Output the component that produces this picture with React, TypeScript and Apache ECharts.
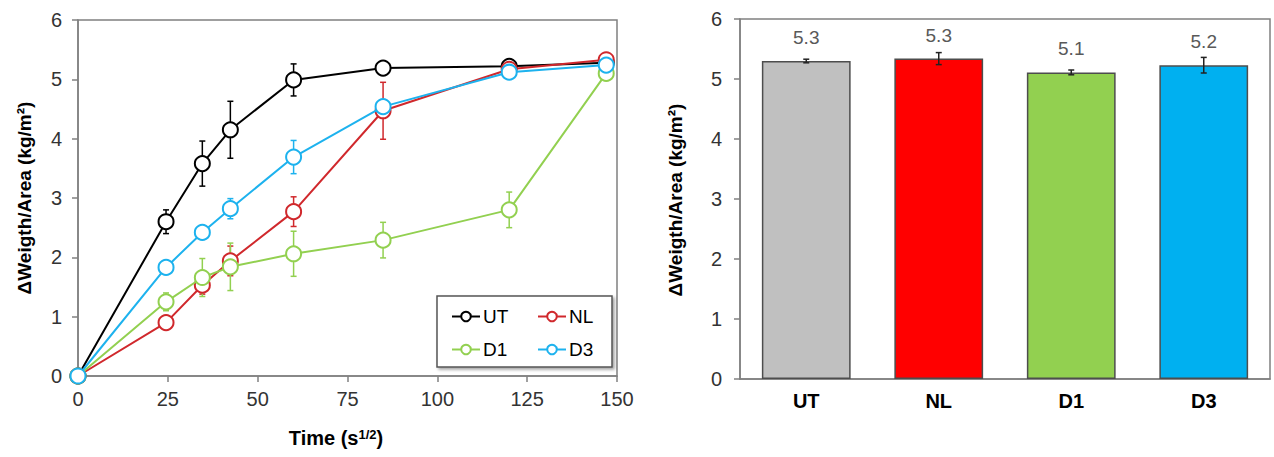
import React, { useEffect, useRef } from "react";
import * as echarts from "echarts";

// ---- Left chart data (time in s^1/2) ----
const times = [0, 24.5, 34.6, 42.4, 60, 84.9, 120, 147];
const utMean = [0, 2.6, 3.58, 4.15, 4.99, 5.19, 5.22, 5.28];
const utErr = [0, 0.2, 0.38, 0.48, 0.27, 0.05, 0.05, 0.05];
const nlMean = [0, 0.9, 1.53, 1.94, 2.77, 4.47, 5.17, 5.33];
const nlErr = [0, 0.05, 0.15, 0.25, 0.25, 0.48, 0.05, 0.05];
const d1Mean = [0, 1.25, 1.66, 1.84, 2.06, 2.29, 2.8, 5.1];
const d1Err = [0, 0.15, 0.32, 0.4, 0.38, 0.3, 0.3, 0.05];
const d3Mean = [0, 1.83, 2.42, 2.82, 3.69, 4.54, 5.12, 5.24];
const d3Err = [0, 0.05, 0.1, 0.17, 0.28, 0.05, 0.05, 0.05];

// ---- Right chart data ----
const groups = ["UT", "NL", "D1", "D3"];
const finalMean = [5.3, 5.34, 5.11, 5.23];
const finalErr = [0.03, 0.1, 0.04, 0.13];

const lineColors = ["#000000", "#D0282C", "#92D050", "#1DB2EE"];
const barColors = ["#C0C0C0", "#FF0000", "#92D050", "#00B0F0"];

const FONT = '"Liberation Sans", Arial, sans-serif';

function errRender(color: string, capW: number) {
  return (params: any, api: any) => {
    const e = api.value(2);
    if (!e) return null;
    const x = api.value(0);
    const y = api.value(1);
    const p1 = api.coord([x, y + e]);
    const p2 = api.coord([x, y - e]);
    const st = { stroke: color, lineWidth: 1.5 };
    return {
      type: "group",
      children: [
        { type: "line", shape: { x1: p1[0], y1: p1[1], x2: p2[0], y2: p2[1] }, style: st },
        { type: "line", shape: { x1: p1[0] - capW, y1: p1[1], x2: p1[0] + capW, y2: p1[1] }, style: st },
        { type: "line", shape: { x1: p2[0] - capW, y1: p2[1], x2: p2[0] + capW, y2: p2[1] }, style: st },
      ],
    };
  };
}

export default function App() {
  const ref = useRef<HTMLDivElement>(null);

  useEffect(() => {
    document.body.style.margin = "0";
    const chart = echarts.init(ref.current!, null, { renderer: "svg" });

    const names = ["UT", "NL", "D1", "D3"];
    const means = [utMean, nlMean, d1Mean, d3Mean];
    const errs = [utErr, nlErr, d1Err, d3Err];

    const lineSeries: any[] = [];
    names.forEach((n, k) => {
      lineSeries.push({
        name: n + " err",
        type: "custom",
        xAxisIndex: 0,
        yAxisIndex: 0,
        renderItem: errRender(lineColors[k], 3),
        data: times.map((t, i) => [t, means[k][i], errs[k][i]]),
        z: 1,
        silent: true,
      });
    });
    names.forEach((n, k) => {
      lineSeries.push({
        name: n,
        type: "line",
        xAxisIndex: 0,
        yAxisIndex: 0,
        data: times.map((t, i) => [t, means[k][i]]),
        symbol: "emptyCircle",
        symbolSize: 15,
        color: lineColors[k],
        lineStyle: { color: lineColors[k], width: 2 },
        itemStyle: { color: lineColors[k], borderColor: lineColors[k], borderWidth: 2 },
        z: 3 + k,
      });
    });

    const axisLine = { show: true, lineStyle: { color: "#808080", width: 1.5 } };
    const axisLabel = { color: "#333", fontSize: 20, fontFamily: FONT };

    const legendBase = {
      orient: "vertical",
      top: 307,
      itemWidth: 28,
      itemHeight: 12,
      itemGap: 14,
      padding: 0,
      selectedMode: false,
      z: 10,
      textStyle: { color: "#000", fontSize: 19, fontFamily: FONT, padding: [0, 0, 0, -2] },
    };

    const option: any = {
      animation: false,
      textStyle: { fontFamily: FONT },
      grid: [
        { left: 78, top: 20, width: 539, height: 356, show: true, borderColor: "#808080", borderWidth: 1.5 },
        { left: 740, top: 19, width: 530, height: 360, show: true, borderColor: "#808080", borderWidth: 1.5 },
      ],
      xAxis: [
        {
          type: "value",
          gridIndex: 0,
          min: 0,
          max: 150,
          interval: 25,
          axisLine,
          axisTick: { show: true, length: 6, lineStyle: { color: "#808080", width: 1.5 } },
          axisLabel: { ...axisLabel, margin: 13 },
          splitLine: { show: false },
        },
        {
          type: "category",
          gridIndex: 1,
          data: groups,
          axisLine,
          axisTick: { show: false },
          axisLabel: { color: "#000", fontSize: 20, fontWeight: "bold", fontFamily: FONT, margin: 12 },
        },
      ],
      yAxis: [
        {
          type: "value",
          gridIndex: 0,
          min: 0,
          max: 6,
          interval: 1,
          axisLine,
          axisTick: { show: true, length: 6, lineStyle: { color: "#808080", width: 1.5 } },
          axisLabel: { ...axisLabel, margin: 16 },
          splitLine: { show: false },
        },
        {
          type: "value",
          gridIndex: 1,
          min: 0,
          max: 6,
          interval: 1,
          axisLine,
          axisTick: { show: true, length: 6, lineStyle: { color: "#808080", width: 1.5 } },
          axisLabel: { ...axisLabel, margin: 18 },
          splitLine: { show: false },
        },
      ],
      legend: [
        { ...legendBase, data: ["UT", "D1"], left: 451 },
        { ...legendBase, data: ["NL", "D3"], left: 537 },
      ],
      series: [
        ...lineSeries,
        {
          name: "Final",
          type: "bar",
          xAxisIndex: 1,
          yAxisIndex: 1,
          barWidth: "67%",
          data: finalMean.map((v, i) => ({
            value: v,
            itemStyle: { color: barColors[i], borderColor: "#4d4d4d", borderWidth: 1.5 },
          })),
          label: {
            show: true,
            position: "top",
            distance: 14,
            color: "#595959",
            fontSize: 19,
            fontFamily: FONT,
            formatter: (p: any) => Number(p.value).toFixed(1),
          },
          z: 2,
        },
        {
          name: "Final err",
          type: "custom",
          xAxisIndex: 1,
          yAxisIndex: 1,
          renderItem: errRender("#222", 3),
          data: finalMean.map((v, i) => [i, v, finalErr[i]]),
          z: 5,
          silent: true,
        },
      ],
      graphic: [
        {
          type: "rect",
          z: 8,
          shape: { x: 437, y: 296, width: 175, height: 71 },
          style: {
            fill: "#fff",
            stroke: "#555",
            lineWidth: 1.5,
            shadowColor: "rgba(0,0,0,0.35)",
            shadowBlur: 3,
            shadowOffsetX: 2,
            shadowOffsetY: 2,
          },
        },
        {
          type: "text",
          x: 24,
          y: 198,
          rotation: Math.PI / 2,
          style: {
            text: "ΔWeigth/Area (kg/m²)",
            fontSize: 19,
            fontWeight: "bold",
            fontFamily: FONT,
            fill: "#000",
            align: "center",
            verticalAlign: "middle",
          },
        },
        {
          type: "text",
          x: 675,
          y: 200,
          rotation: Math.PI / 2,
          style: {
            text: "ΔWeigth/Area (kg/m²)",
            fontSize: 19,
            fontWeight: "bold",
            fontFamily: FONT,
            fill: "#000",
            align: "center",
            verticalAlign: "middle",
          },
        },
        {
          type: "text",
          x: 336,
          y: 438,
          style: {
            text: "{b|Time (s}{s|1/2}{b|)}",
            align: "center",
            verticalAlign: "middle",
            rich: {
              b: { fontSize: 20, fontWeight: "bold", fontFamily: FONT, fill: "#000", color: "#000" },
              s: { fontSize: 13, fontWeight: "bold", fontFamily: FONT, fill: "#000", color: "#000", verticalAlign: "top", padding: [0, 0, 8, 0] },
            },
          },
        },
      ],
    };

    chart.setOption(option);
    return () => chart.dispose();
  }, []);

  return <div ref={ref} style={{ width: 1274, height: 457 }} />;
}
